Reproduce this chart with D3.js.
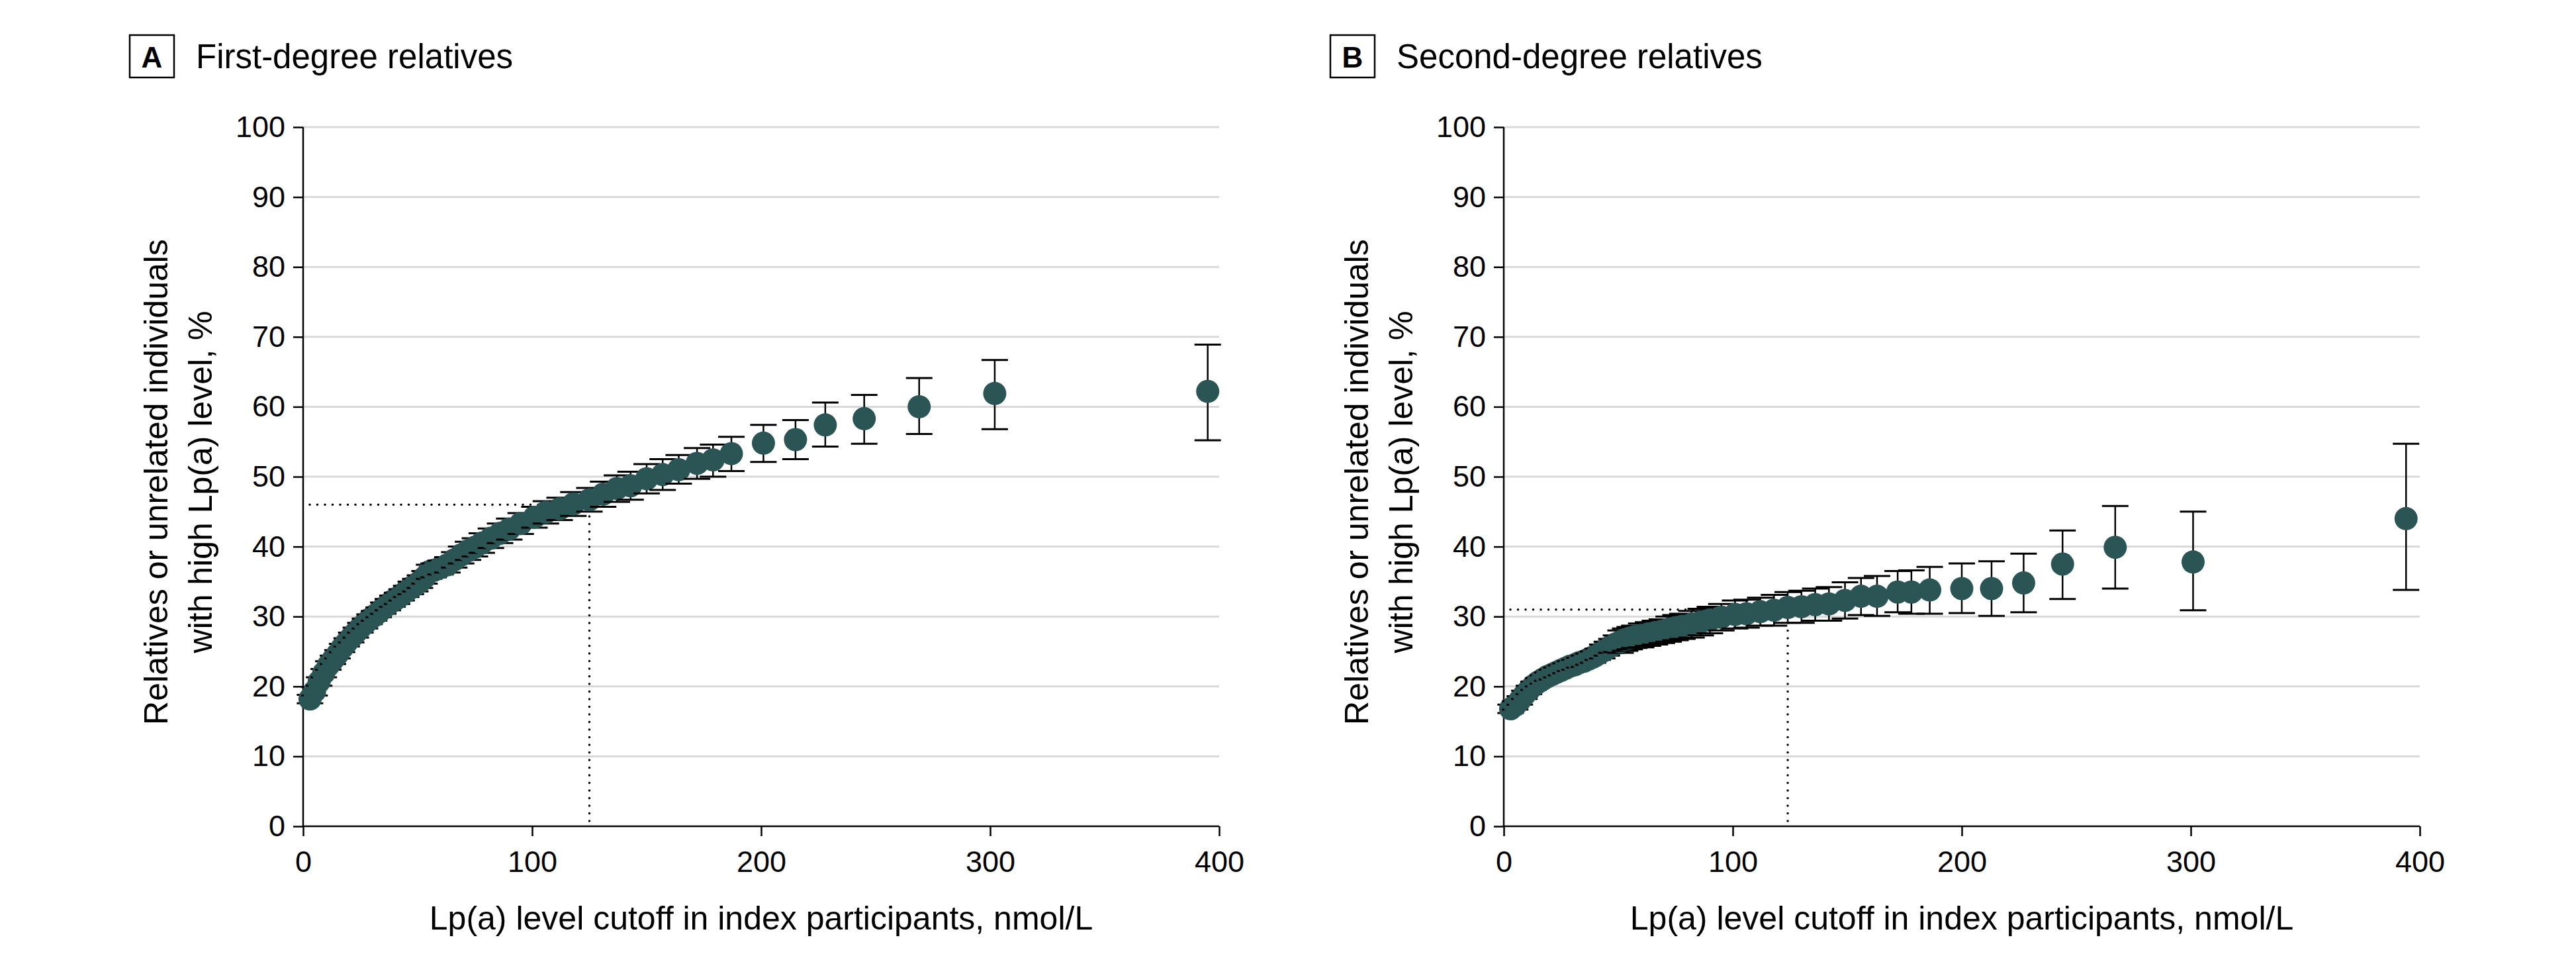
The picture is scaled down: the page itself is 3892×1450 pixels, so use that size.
<!DOCTYPE html>
<html><head><meta charset="utf-8">
<script src="https://cdn.jsdelivr.net/npm/d3@7"></script>
<style>
html,body{margin:0;padding:0;background:#fff;}
svg{display:block;}
text{font-family:"Liberation Sans",Arial,sans-serif;fill:#000;}
</style></head>
<body>
<svg id="chart" width="3892" height="1450"></svg>
<script>
// ---------- data ----------
const panelIds = ["A", "B"];
const panelTitles = ["First-degree relatives", "Second-degree relatives"];
const xTicks = [0, 100, 200, 300, 400];
const yTicks = [0, 10, 20, 30, 40, 50, 60, 70, 80, 90, 100];
const xTitle = "Lp(a) level cutoff in index participants, nmol/L";
const yTitleLines = ["Relatives or unrelated individuals", "with high Lp(a) level, %"];

// Panel A: first-degree relatives
const aX = [3,5,7,9,11,13,15,17,19,21,23,25,27,29,31,33,35,37,39,41,43,45,47,49,51,53,55,57,60,63,66,69,72,75,78,82,86,90,95,101,106,112,118,125,131,137,143,150,157,164,172,179,187,201,215,228,245,269,302,395];
const aY = [18.2,19.3,20.7,21.9,23.0,23.8,24.6,25.5,26.3,27.0,27.7,28.4,29.0,29.6,30.1,30.6,31.2,31.7,32.2,32.6,33.1,33.6,34.1,34.5,35.0,35.6,36.4,36.6,37.0,37.4,38.1,38.8,39.4,39.9,40.5,41.2,41.9,42.5,43.3,44.2,44.9,45.4,46.1,46.7,47.5,48.3,48.7,49.7,50.3,51.0,51.9,52.4,53.3,54.8,55.3,57.4,58.3,60.0,61.9,62.2];
const aLo = [17.6,18.7,20.1,21.3,22.4,23.2,24.0,24.9,25.7,26.3,27.0,27.7,28.3,28.9,29.4,29.9,30.4,30.9,31.4,31.8,32.3,32.8,33.2,33.6,34.1,34.7,35.4,35.6,36.0,36.3,37.0,37.6,38.1,38.6,39.1,39.8,40.5,41.0,41.8,42.7,43.3,43.8,44.4,45.0,45.7,46.4,46.7,47.6,48.1,49.0,49.7,50.0,50.8,52.1,52.5,54.3,54.7,56.1,56.8,55.2];
const aHi = [18.8,19.9,21.3,22.5,23.6,24.4,25.2,26.1,26.9,27.7,28.4,29.1,29.7,30.3,30.8,31.3,32.0,32.5,33.0,33.4,33.9,34.4,35.0,35.4,35.9,36.5,37.4,37.6,38.0,38.5,39.2,40.0,40.7,41.2,41.9,42.6,43.3,44.0,44.8,45.7,46.5,47.0,47.8,48.4,49.3,50.2,50.7,51.8,52.5,53.1,54.1,54.6,55.7,57.4,58.1,60.6,61.7,64.1,66.7,68.9];
const aRef = [125, 46];

// Panel B: second-degree relatives
const bX = [3,5,7,9,11,13,15,17,19,21,23,25,27,29,31,33,35,37,39,41,43,45,47,49,51,53,55,57,60,63,66,69,72,75,78,82,86,90,95,101,106,112,118,124,130,136,142,149,156,163,172,178,186,200,213,227,244,267,301,394];
const bY = [16.8,17.3,18.0,18.8,19.5,20.1,20.6,21.0,21.4,21.7,22.0,22.3,22.6,22.9,23.1,23.4,23.6,23.9,24.2,24.6,25.0,25.4,25.8,26.1,26.4,26.7,26.9,27.1,27.3,27.5,27.7,27.9,28.2,28.4,28.6,28.9,29.2,29.5,29.9,30.3,30.4,30.7,30.9,31.3,31.4,31.7,31.8,32.3,32.9,32.9,33.5,33.5,33.8,34.0,34.0,34.8,37.5,39.9,37.8,44.0];
const bLo = [16.2,16.7,17.4,18.2,18.9,19.5,20.0,20.4,20.8,21.0,21.3,21.6,21.9,22.2,22.4,22.7,22.8,23.1,23.4,23.8,24.0,24.4,24.8,24.9,24.8,25.1,25.3,25.5,25.6,25.8,26.0,26.2,26.4,26.6,26.8,27.0,27.3,27.6,28.0,28.3,28.4,28.7,28.7,29.1,29.1,29.4,29.4,29.7,30.2,30.1,30.6,30.4,30.4,30.5,30.1,30.6,32.5,34.0,30.9,33.8];
const bHi = [17.4,17.9,18.6,19.4,20.1,20.7,21.2,21.6,22.0,22.4,22.7,23.0,23.3,23.6,23.8,24.1,24.4,24.7,25.0,25.4,26.0,26.4,26.8,27.3,28.0,28.3,28.5,28.7,29.0,29.2,29.4,29.6,30.0,30.2,30.4,30.8,31.1,31.4,31.8,32.3,32.4,32.7,33.1,33.5,33.7,34.0,34.2,34.9,35.5,35.8,36.5,36.6,37.1,37.6,37.9,39.0,42.3,45.8,45.0,54.7];
const bRef = [124, 31];

// ---------- layout ----------
const svg = d3.select("#chart");
const color = "#2b5554";
const plotTop = 192, plotBottom = 1248, plotW = 1384;
const panelX0 = [458, 2272];
const series = [
  {x: aX, y: aY, lo: aLo, hi: aHi, ref: aRef},
  {x: bX, y: bY, lo: bLo, hi: bHi, ref: bRef}
];

panelIds.forEach((pid, i) => {
  const x0 = panelX0[i];
  const s = series[i];
  const x = d3.scaleLinear().domain([0, 400]).range([x0, x0 + plotW]);
  const y = d3.scaleLinear().domain([0, 100]).range([plotBottom, plotTop]);
  const g = svg.append("g");

  // panel label box + title
  g.append("rect").attr("x", x0 - 262).attr("y", 53).attr("width", 67).attr("height", 64)
    .attr("fill", "none").attr("stroke", "#000").attr("stroke-width", 2.5);
  g.append("text").attr("x", x0 - 228.5).attr("y", 102).attr("text-anchor", "middle")
    .attr("font-size", 44).attr("font-weight", "bold").text(pid);
  g.append("text").attr("x", x0 - 162).attr("y", 103).attr("font-size", 51).text(panelTitles[i]);

  // gridlines
  g.append("g").selectAll("line").data(yTicks.filter(d => d > 0)).join("line")
    .attr("x1", x0).attr("x2", x0 + plotW)
    .attr("y1", d => y(d)).attr("y2", d => y(d))
    .attr("stroke", "#d9d9d9").attr("stroke-width", 3);

  // axes
  const yAxis = g.append("g").attr("transform", `translate(${x0},0)`)
    .call(d3.axisLeft(y).tickValues(yTicks).tickSize(15).tickPadding(12).tickFormat(d3.format("d")));
  const xAxis = g.append("g").attr("transform", `translate(0,${plotBottom})`)
    .call(d3.axisBottom(x).tickValues(xTicks).tickSize(15).tickPadding(22).tickFormat(d3.format("d")));
  [yAxis, xAxis].forEach(ax => {
    ax.select(".domain").attr("stroke", "#000").attr("stroke-width", 2.5);
    ax.selectAll(".tick line").attr("stroke", "#000").attr("stroke-width", 2.5);
    ax.selectAll(".tick text").attr("font-size", 45).attr("fill", "#000")
      .style("font-family", '"Liberation Sans", Arial, sans-serif');
  });
  yAxis.select(".domain").attr("d", `M0,${plotTop}V${plotBottom}`);
  xAxis.select(".domain").attr("d", `M${x0},0H${x0 + plotW}`);

  // axis titles
  g.append("text").attr("x", x0 + plotW / 2).attr("y", 1404).attr("text-anchor", "middle")
    .attr("font-size", 50).text(xTitle);
  yTitleLines.forEach((t, k) => {
    g.append("text").attr("transform", `translate(${x0 - 222 + k * 67 + 17},${728}) rotate(-90)`)
      .attr("text-anchor", "middle").attr("font-size", 50).text(t);
  });

  // reference dotted lines
  const rx = s.ref[0], ry = s.ref[1];
  g.append("line").attr("x1", x(0) + 10).attr("x2", x(rx)).attr("y1", y(ry)).attr("y2", y(ry))
    .attr("stroke", "#000").attr("stroke-width", 3.5).attr("stroke-dasharray", "0,11.5").attr("stroke-linecap", "round");
  g.append("line").attr("x1", x(rx)).attr("x2", x(rx)).attr("y1", y(0) - 8).attr("y2", y(ry))
    .attr("stroke", "#000").attr("stroke-width", 3.5).attr("stroke-dasharray", "0,11.5").attr("stroke-linecap", "round");

  // points with error bars
  const pts = s.x.map((v, j) => ({x: v, y: s.y[j], lo: s.lo[j], hi: s.hi[j]}));
  const pg = g.append("g").selectAll("g").data(pts).join("g");
  pg.append("line").attr("x1", d => x(d.x)).attr("x2", d => x(d.x))
    .attr("y1", d => y(d.lo)).attr("y2", d => y(d.hi)).attr("stroke", "#000").attr("stroke-width", 2.5);
  pg.append("line").attr("x1", d => x(d.x) - 20).attr("x2", d => x(d.x) + 20)
    .attr("y1", d => y(d.hi)).attr("y2", d => y(d.hi)).attr("stroke", "#000").attr("stroke-width", 3);
  pg.append("line").attr("x1", d => x(d.x) - 20).attr("x2", d => x(d.x) + 20)
    .attr("y1", d => y(d.lo)).attr("y2", d => y(d.lo)).attr("stroke", "#000").attr("stroke-width", 3);
  pg.append("circle").attr("cx", d => x(d.x)).attr("cy", d => y(d.y)).attr("r", 17.5).attr("fill", color);
});
</script>
</body></html>
